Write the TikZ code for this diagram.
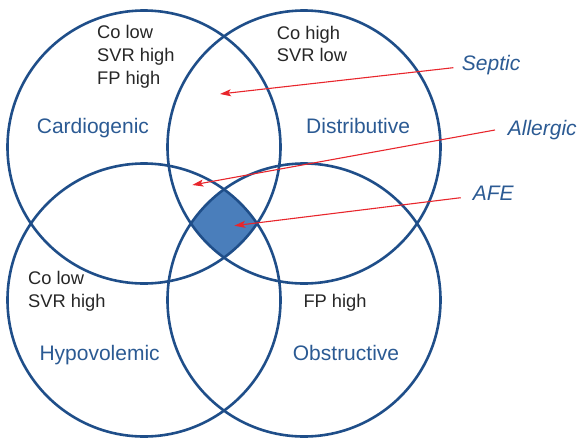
\documentclass[tikz,border=0pt]{standalone}
\usepackage{fontspec}
\setmainfont{Liberation Sans}
\usetikzlibrary{arrows.meta}
\definecolor{ringblue}{HTML}{1F4E89}
\definecolor{fillblue}{HTML}{4A7EBB}
\definecolor{textblue}{HTML}{2B5A93}
\definecolor{arrowred}{HTML}{E8262C}
\begin{document}
\begin{tikzpicture}[x=1pt,y=-1pt,
  ring/.style={draw=ringblue,line width=2.6pt,circle,minimum size=273pt,inner sep=0pt},
  state/.style={anchor=base west,inner sep=0pt,align=left,font=\fontsize{18.3}{22.7}\selectfont,text=black!85},
  kind/.style={anchor=base west,inner sep=0pt,font=\fontsize{21}{25}\selectfont,text=textblue},
  cause/.style={kind,font=\fontsize{21}{25}\selectfont\itshape},
  pointer/.style={draw=arrowred,line width=1.1pt,-{Stealth[length=11pt,width=7pt,inset=2.5pt]}}]
\useasboundingbox (0,0) rectangle (579,437);
\coordinate (c1) at (144,147);
\coordinate (c2) at (304,147);
\coordinate (c3) at (144,300);
\coordinate (c4) at (304,300);
\begin{scope}
  \clip (c1) circle (136.5);
  \clip (c2) circle (136.5);
  \clip (c3) circle (136.5);
  \fill[fillblue] (c4) circle (136.5);
\end{scope}
\node[ring] (cardc) at (c1) {};
\node[ring] (distc) at (c2) {};
\node[ring] (hypoc) at (c3) {};
\node[ring] (obstc) at (c4) {};
% multi-line nodes: base anchor sits on the last line's baseline
\node[state] (s1) at (97,84) {Co low\\SVR high\\FP high};
\node[state] (s2) at (276.7,61.7) {Co high\\SVR low};
\node[state] (s3) at (28,307.3) {Co low\\SVR high};
\node[state] (s4) at (303.3,307.3) {FP high};
\node[kind] (k1) at (36.7,133) {Cardiogenic};
\node[kind] (k2) at (306,133.3) {Distributive};
\node[kind] (k3) at (39.3,360) {Hypovolemic};
\node[kind] (k4) at (292.7,360) {Obstructive};
\node[cause] (septic) at (461.7,70) {Septic};
\node[cause] (allergic) at (507.7,135) {Allergic};
\node[cause] (afe) at (472.7,200) {AFE};
\coordinate (septicTail) at (453.3,67.7);
\coordinate (allergicTail) at (495,130);
\coordinate (afeTail) at (460.7,197.7);
\coordinate (septicTip) at (220,94);
\coordinate (allergicTip) at (192.3,185);
\coordinate (afeTip) at (234.3,225.7);
\draw[pointer] (septicTail) -- (septicTip);
\draw[pointer] (allergicTail) -- (allergicTip);
\draw[pointer] (afeTail) -- (afeTip);
\end{tikzpicture}
\end{document}
